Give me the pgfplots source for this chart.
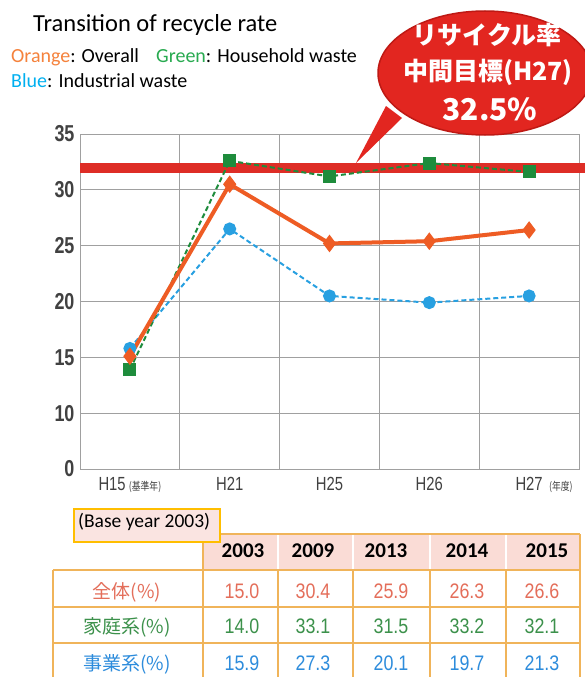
\documentclass[border=0pt]{standalone}
\usepackage{pgfplots}
\pgfplotsset{compat=1.18}
\usepackage{fontspec}
\setmainfont{Carlito}
\newfontfamily\jp{Noto Sans CJK JP}
\newfontfamily\jpn[FakeStretch=0.8]{Noto Sans CJK JP}
\newfontfamily\tk[FakeStretch=0.78]{Liberation Sans}
\newfontfamily\tkn[FakeStretch=0.85]{Liberation Sans}

\definecolor{orangeL}{RGB}{238,92,36}
\definecolor{greenL}{RGB}{30,140,60}
\definecolor{blueL}{RGB}{40,160,225}
\definecolor{targetred}{RGB}{222,45,38}
\definecolor{balloonred}{RGB}{226,38,32}
\definecolor{balloonedge}{RGB}{190,25,20}
\definecolor{gridgray}{RGB}{160,160,160}
\definecolor{ticktext}{RGB}{65,65,65}
\definecolor{tline}{RGB}{240,180,90}
\definecolor{hdrpink}{RGB}{250,220,214}
\definecolor{basefill}{RGB}{250,228,225}
\definecolor{baseborder}{RGB}{255,190,0}
\definecolor{rowA}{RGB}{228,110,90}
\definecolor{rowB}{RGB}{60,145,75}
\definecolor{rowC}{RGB}{45,140,220}
\definecolor{legO}{RGB}{245,130,60}
\definecolor{legG}{RGB}{40,170,80}
\definecolor{legB}{RGB}{0,176,240}

\begin{document}
\begin{tikzpicture}
\useasboundingbox (0,0) rectangle (584pt,-677pt);
\fill[white] (0,0) rectangle (584pt,-677pt);
\begin{axis}[
  at={(80pt,-469pt)}, anchor=south west,
  width=499pt, height=335pt, scale only axis,
  xmin=-0.5, xmax=4.5, ymin=0, ymax=6,
  y filter/.expression={y>=10 ? (y-5)/5 : y/10},
  xtick={0,1,2,3,4},
  xticklabels={{H15\,{\jpn\fontsize{11}{11}\selectfont(基準年)}},H21,H25,H26,{H27\rlap{\,\,{\jpn\fontsize{11}{11}\selectfont(年度)}}}},
  minor xtick={-0.5,0.5,1.5,2.5,3.5,4.5},
  xminorgrids, ymajorgrids,
  ytick={0,1,2,3,4,5,6},
  yticklabels={0,10,15,20,25,30,35},
  grid style={draw=gridgray, line width=0.8pt},
  minor grid style={draw=gridgray, line width=0.8pt},
  axis line style={draw=gridgray, line width=0.8pt},
  major tick length=0pt, minor tick length=0pt,
  tick style={draw=none},
  yticklabel style={font=\tk\bfseries\fontsize{23}{23}\selectfont, text=ticktext, xshift=-2pt},
  xticklabel style={font=\tk\fontsize{19}{19}\selectfont, text=ticktext, yshift=-5pt},
  clip=false,
]
\addplot[targetred, line width=10pt, forget plot] coordinates {(-0.5,32) (4.56,32)};
\addplot[blueL, line width=2pt, dash pattern=on 5pt off 3pt, mark=*, mark size=5.5pt,
  mark options={solid, fill=blueL}] coordinates {(0,15.8) (1,26.5) (2,20.5) (3,19.9) (4,20.5)};
\addplot[greenL, line width=2pt, dash pattern=on 5pt off 3pt, mark=square*, mark size=5.5pt,
  mark options={solid, fill=greenL}] coordinates {(0,13.9) (1,32.6) (2,31.2) (3,32.4) (4,31.6)};
\addplot[orangeL, line width=4pt, mark=diamond*, mark size=8pt,
  mark options={solid, line width=1pt, fill=orangeL}] coordinates {(0,15.1) (1,30.5) (2,25.2) (3,25.4) (4,26.4)};
\end{axis}
\begin{scope}[x=1pt,y=-1pt]
% title and legend text
\node[anchor=base west, inner sep=0pt, font=\fontsize{24.5}{24.5}\selectfont] at (33,32) {Transition of recycle rate};
\node[anchor=base west, inner sep=0pt, font=\fontsize{20}{20}\selectfont] at (11,63) {\textcolor{legO}{Orange}: Overall};
\node[anchor=base west, inner sep=0pt, font=\fontsize{20}{20}\selectfont] at (156,63) {\textcolor{legG}{Green}: Household waste};
\node[anchor=base west, inner sep=0pt, font=\fontsize{20}{20}\selectfont] at (11,88) {\textcolor{legB}{Blue}: Industrial waste};
% balloon
\fill[balloonred] (386,106) -- (356,163) -- (402,118) -- cycle;
\filldraw[fill=balloonred, draw=balloonedge, line width=1.5pt] (485,73) ellipse [x radius=107pt, y radius=62pt];
\node[anchor=base, inner sep=0pt, text=white, font=\jp\bfseries\fontsize{25}{25}\selectfont] at (487,45) {リサイクル率};
\node[anchor=base, inner sep=0pt, text=white, font=\jp\bfseries\fontsize{25}{25}\selectfont] at (488,81) {中間目標(H27)};
\node[anchor=base, inner sep=0pt, text=white, font=\jp\bfseries\fontsize{30}{30}\selectfont] at (490,120) {32.5\%};
% table
\fill[hdrpink] (203,534) rectangle (580,570);
\draw[white, line width=1.2pt] (278,534) -- (278,570) (353,534) -- (353,570) (430,534) -- (430,570) (506,534) -- (506,570);
\draw[tline, line width=1.2pt] (203,534) -- (580,534);
\draw[tline, line width=1.2pt] (53,570) -- (580,570) (53,607) -- (580,607) (53,643) -- (580,643);
\draw[tline, line width=1.2pt] (53,570) -- (53,680) (203,534) -- (203,680) (278,570) -- (278,680)
  (353,570) -- (353,680) (430,570) -- (430,680) (506,570) -- (506,680) (580,534) -- (580,680);
\foreach \xx/\yy in {243/2003, 313/2009, 386/2013, 467/2014, 547/2015}
  \node[anchor=base, inner sep=0pt, font=\bfseries\fontsize{21}{21}\selectfont] at (\xx,557) {\yy};
\node[anchor=base, inner sep=0pt, text=rowA, font=\jp\fontsize{19}{19}\selectfont] at (127,598) {全体(\%)};
\node[anchor=base, inner sep=0pt, text=rowB, font=\jp\fontsize{19}{19}\selectfont] at (127,633) {家庭系(\%)};
\node[anchor=base, inner sep=0pt, text=rowC, font=\jp\fontsize{19}{19}\selectfont] at (127,670) {事業系(\%)};
\foreach \xx/\va/\vb/\vc in {242/15.0/14.0/15.9, 313/30.4/33.1/27.3, 391/25.9/31.5/20.1, 467/26.3/33.2/19.7, 542/26.6/32.1/21.3}{
  \node[anchor=base, inner sep=0pt, text=rowA, font=\tkn\fontsize{21}{21}\selectfont] at (\xx,598) {\va};
  \node[anchor=base, inner sep=0pt, text=rowB, font=\tkn\fontsize{21}{21}\selectfont] at (\xx,633) {\vb};
  \node[anchor=base, inner sep=0pt, text=rowC, font=\tkn\fontsize{21}{21}\selectfont] at (\xx,670) {\vc};
}
% base year box
\filldraw[fill=basefill, draw=baseborder, line width=2pt] (74,509) rectangle (220,542);
\node[anchor=base west, inner sep=0pt, font=\fontsize{19.5}{19.5}\selectfont] at (78,527) {(Base year 2003)};
\end{scope}
\end{tikzpicture}
\end{document}
